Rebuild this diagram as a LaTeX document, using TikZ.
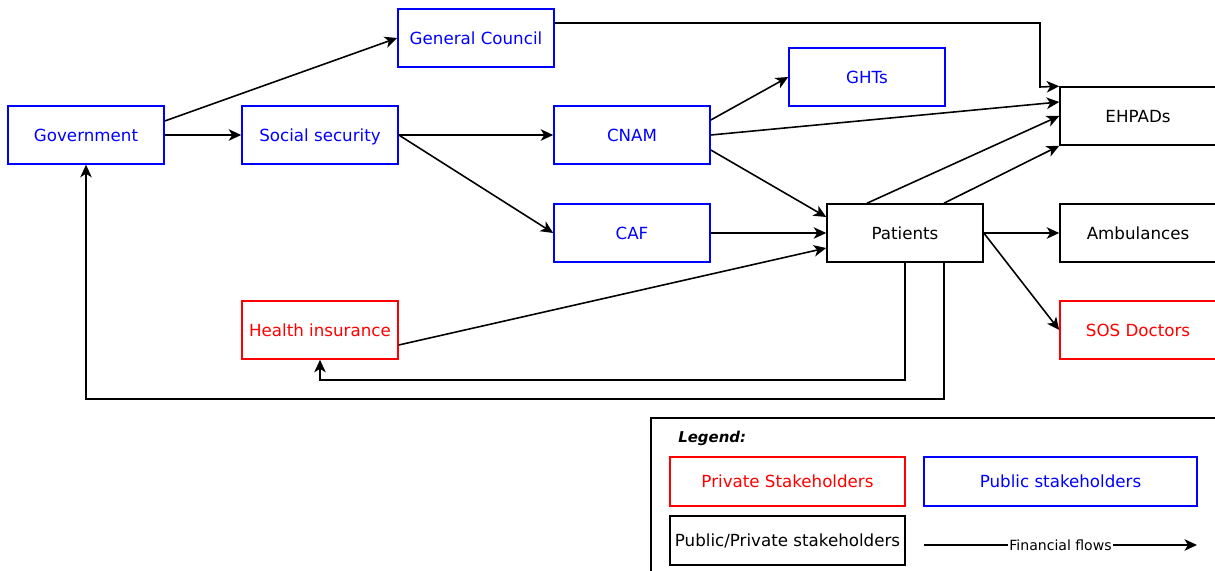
\documentclass[tikz,border=0pt]{standalone}
\usepackage{fontspec}
\setmainfont{DejaVu Sans}
\usetikzlibrary{arrows.meta}
\tikzset{
  box/.style={draw, line width=0.9pt, inner sep=0pt, minimum width=3.12cm, minimum height=1.16cm, text height=8pt, text depth=1pt, font=\fontsize{9.5}{11}\selectfont},
  pub/.style={box, draw=blue, text=blue},
  priv/.style={box, draw=red, text=red},
  both/.style={box, draw=black, text=black},
  flow/.style={-{Stealth[length=2.5mm, width=2.3mm, inset=0.7mm]}, line width=0.9pt}
}
\begin{document}
\begin{tikzpicture}[x=0.02cm, y=-0.02cm]
  \clip (0,0) rectangle (1215,571);
  \fill[white] (0,0) rectangle (1215,571);
  % stakeholders
  \node[pub] (gov) at (86,135) {Government};
  \node[pub] (soc) at (320,135) {Social security};
  \node[pub] (gc) at (476,38) {General Council};
  \node[pub] (cnam) at (632,135) {CNAM};
  \node[pub] (ght) at (867,77) {GHTs};
  \node[pub] (caf) at (632,233) {CAF};
  \node[priv] (hi) at (320,330) {Health insurance};
  \node[both] (pat) at (905,233) {Patients};
  \node[both] (ehp) at (1138,116) {EHPADs};
  \node[both] (amb) at (1138,233) {Ambulances};
  \node[priv] (sos) at (1138,330) {SOS Doctors};
  \coordinate (gcbend) at (1040,87);
  % flows
  \draw[flow] ([yshift=0.28cm]gov.east) -- (gc.west);
  \draw[flow] (gov) -- (soc);
  \draw[flow] (soc) -- (cnam);
  \draw[flow] (soc.east) -- (caf.west);
  \draw[flow] ([yshift=0.3cm]cnam.east) -- (ght.west);
  \draw[flow] (cnam.east) -- ([yshift=0.28cm]ehp.west);
  \draw[flow] ([yshift=-0.3cm]cnam.east) -- ([yshift=0.32cm]pat.west);
  \draw[flow] ([yshift=0.3cm]gc.east) -| (gcbend) -- (ehp.north west);
  \draw[flow] ([xshift=-0.76cm]pat.north) -- (ehp.west);
  \draw[flow] ([xshift=0.78cm]pat.north) -- (ehp.south west);
  \draw[flow] (caf) -- (pat);
  \draw[flow] ([yshift=-0.3cm]hi.east) -- ([yshift=-0.3cm]pat.west);
  \draw[flow] (pat) -- (amb);
  \draw[flow] (pat.east) -- (sos.west);
  \draw[flow] (pat.south) |- ([yshift=-0.4cm]hi.south) -- (hi.south);
  \draw[flow] ([xshift=0.78cm]pat.south) |- ([yshift=-4.68cm]gov.south) -- (gov.south);
  % legend
  \draw[line width=1pt] (651,418) rectangle (1240,600);
  \node[anchor=west, inner sep=0pt, font=\fontsize{8.5}{10}\selectfont\bfseries\itshape] (leg) at (678,438) {Legend:};
  \node[priv, minimum width=4.7cm, minimum height=0.98cm] (lpriv) at (787.5,481.5) {Private Stakeholders};
  \node[pub, minimum width=5.46cm, minimum height=0.98cm] (lpub) at (1060.5,481.5) {Public stakeholders};
  \node[both, minimum width=4.7cm, minimum height=0.98cm] (lboth) at (787.5,540.5) {Public/Private stakeholders};
  \coordinate (ffa) at (924,545);
  \coordinate (ffb) at (1197,545);
  \draw[flow] (ffa) -- node[fill=white, inner sep=1pt, font=\fontsize{8}{9}\selectfont] (ff) {Financial flows} (ffb);
\end{tikzpicture}
\end{document}
